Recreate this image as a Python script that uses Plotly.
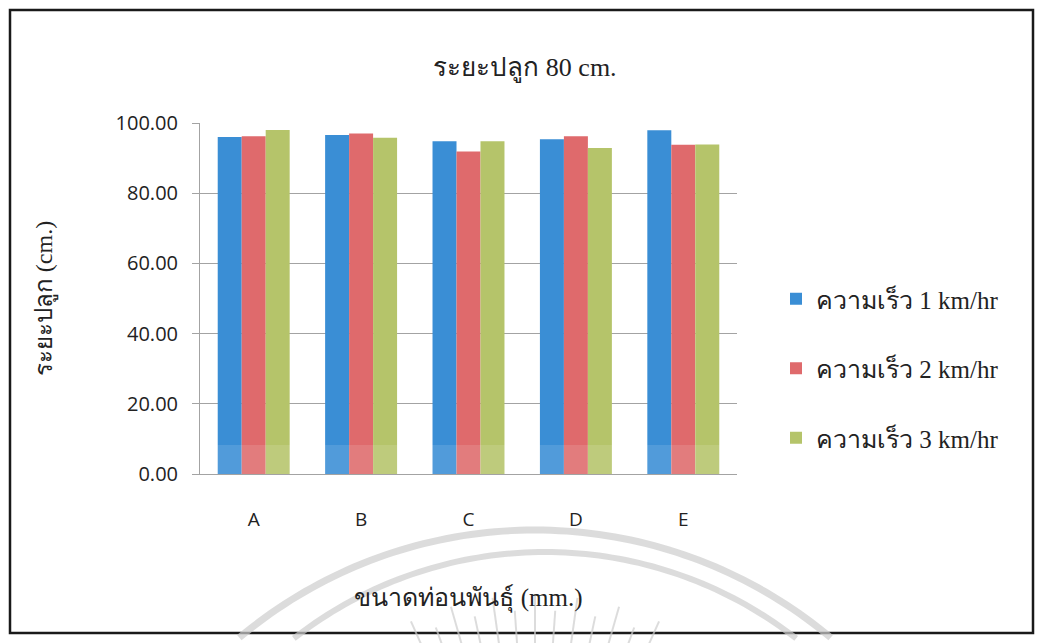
import math
import plotly.graph_objects as go

# Seed-piece sizes (categories) and mean planting spacing per tractor speed
categories = ["A", "B", "C", "D", "E"]
series_names = ["ความเร็ว 1 km/hr", "ความเร็ว 2 km/hr", "ความเร็ว 3 km/hr"]
speed_1 = [96.0, 96.6, 94.8, 95.4, 97.9]
speed_2 = [96.2, 97.0, 91.9, 96.2, 93.8]
speed_3 = [98.0, 95.8, 94.8, 92.9, 93.9]
y_ticks = [0, 20, 40, 60, 80, 100]

colors = ["#3a8ed5", "#df6a6c", "#b5c46a"]
serif = "Liberation Serif, Times New Roman, serif"
sans = "Open Sans, Liberation Sans, sans-serif"
ink = "#222222"
grid = "#a3a3a3"

W, H = 1039, 643
L, R, T, B = 200, 302, 123, 169
pw, ph = W - L - R, H - T - B


def px_x(p):
    """Pixel column -> paper x."""
    return (p - L) / pw


def px_y(p):
    """Pixel row -> paper y."""
    return (H - B - p) / ph


fig = go.Figure()
for i, (name, vals) in enumerate(zip(series_names, [speed_1, speed_2, speed_3])):
    fig.add_trace(go.Bar(
        x=categories, y=vals, name=name,
        marker=dict(color=colors[i], line=dict(width=0)),
        legendgroup=f"g{i}",
    ))

fig.update_layout(
    width=W, height=H,
    margin=dict(l=L, r=R, t=T, b=B),
    paper_bgcolor="white", plot_bgcolor="white",
    barmode="group", bargap=0.33, bargroupgap=0,
    title=dict(text="ระยะปลูก 80 cm.", xref="container", x=525 / W,
               xanchor="center", yref="container", y=1 - 67 / H,
               yanchor="middle",
               font=dict(family=serif, size=26, color=ink)),
    legend=dict(x=px_x(776), y=px_y(276), xanchor="left", yanchor="top",
                font=dict(family=serif, size=25, color=ink),
                tracegroupgap=34, traceorder="grouped",
                bgcolor="rgba(0,0,0,0)"),
    xaxis=dict(
        showline=True, linecolor=grid, linewidth=1,
        ticks="", tickfont=dict(family=sans, size=19, color=ink),
        ticklabelstandoff=28,
        title=dict(text="ขนาดท่อนพันธุ์ (mm.)", standoff=57,
                   font=dict(family=serif, size=25, color=ink)),
    ),
    yaxis=dict(
        range=[0, 100], tickvals=y_ticks, tickformat=".2f",
        showgrid=True, gridcolor=grid, gridwidth=1,
        showline=True, linecolor=grid, linewidth=1,
        ticks="outside", ticklen=7, tickcolor=grid,
        tickfont=dict(family=sans, size=20, color=ink),
        ticklabelstandoff=10,
        zeroline=False,
        title=dict(text="ระยะปลูก (cm.)", standoff=56,
                   font=dict(family=serif, size=24, color=ink)),
    ),
)

# Outer frame around the whole chart
fig.add_shape(type="rect", xref="paper", yref="paper",
              x0=px_x(10), x1=px_x(1033), y0=px_y(633), y1=px_y(10),
              line=dict(color="#1a1a1a", width=2.5), layer="below")


# Faint seal watermark behind the axis title: two arcs and a fan of rays
def arc_path(cx, cy, r, a0, a1, n=80):
    pts = []
    for k in range(n + 1):
        a = math.radians(a0 + (a1 - a0) * k / n)
        x = cx + r * math.sin(a)
        y = cy - r * math.cos(a)
        pts.append(f"{px_x(x):.5f},{px_y(y):.5f}")
    return "M" + " L".join(pts)


wm = "rgba(205,205,205,0.7)"
fig.add_shape(type="path", xref="paper", yref="paper", layer="below",
              path=arc_path(535, 990, 460, -40, 40), line=dict(color=wm, width=7))
fig.add_shape(type="path", xref="paper", yref="paper", layer="below",
              path=arc_path(545, 960, 408, -38, 38), line=dict(color=wm, width=6))
for deg in range(-28, 29, 4):
    a = math.radians(deg)
    r_out = 305 if deg % 8 == 0 else 290
    x0, y0 = 535 + r_out * math.sin(a), 900 - r_out * math.cos(a)
    x1, y1 = 535 + 240 * math.sin(a), 900 - 240 * math.cos(a)
    fig.add_shape(type="line", xref="paper", yref="paper", layer="below",
                  x0=px_x(x0), y0=px_y(y0), x1=px_x(x1), y1=px_y(y1),
                  line=dict(color=wm, width=2))

# Lighter scan band across the foot of the bars
fig.add_shape(type="rect", xref="paper", yref="paper", layer="above",
              x0=0, x1=1, y0=px_y(474), y1=px_y(445),
              fillcolor="rgba(255,255,255,0.12)", line=dict(width=0))

fig.write_html("out.html")
